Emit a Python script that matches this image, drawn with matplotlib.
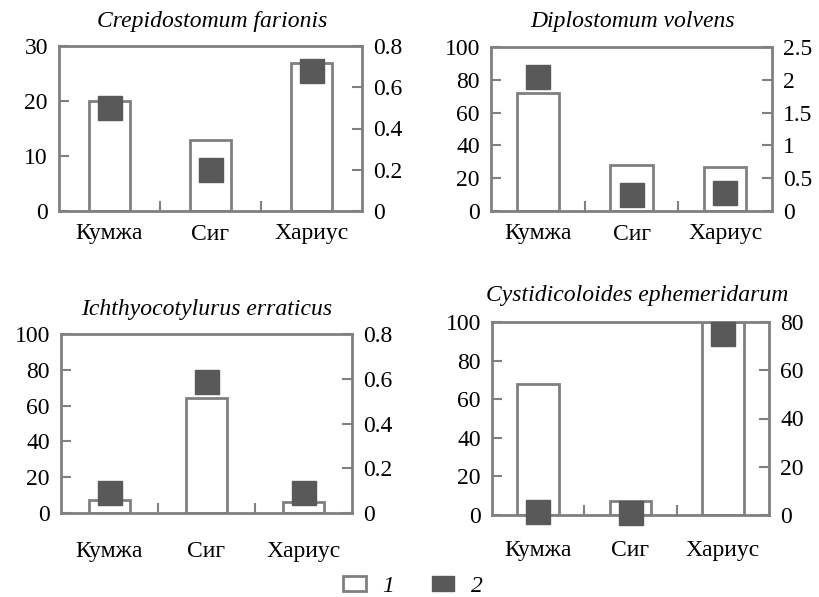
import matplotlib.pyplot as plt
from matplotlib.patches import Patch

plt.rcParams['font.family'] = ['Liberation Serif', 'DejaVu Serif']

fish = ['Кумжа', 'Сиг', 'Хариус']

# (1) bars, left axis
crep_bar = [20, 13, 27]
dipl_bar = [72, 28, 27]
icht_bar = [7, 64, 6]
cyst_bar = [68, 7, 100]

# (2) squares, right axis
crep_sq = [0.5, 0.2, 0.68]
dipl_sq = [2.04, 0.25, 0.27]
icht_sq = [0.09, 0.585, 0.09]
cyst_sq = [1.3, 0.7, 75]

titles = ['Crepidostomum farionis', 'Diplostomum volvens',
          'Ichthyocotylurus erraticus', 'Cystidicoloides ephemeridarum']

left_ticks = [[0, 10, 20, 30], [0, 20, 40, 60, 80, 100],
              [0, 20, 40, 60, 80, 100], [0, 20, 40, 60, 80, 100]]
right_ticks = [[0, 0.2, 0.4, 0.6, 0.8], [0, 0.5, 1, 1.5, 2, 2.5],
               [0, 0.2, 0.4, 0.6, 0.8], [0, 20, 40, 60, 80]]
right_labels = [['0', '0.2', '0.4', '0.6', '0.8'],
                ['0', '0.5', '1', '1.5', '2', '2.5'],
                ['0', '0.2', '0.4', '0.6', '0.8'],
                ['0', '20', '40', '60', '80']]

bars = [crep_bar, dipl_bar, icht_bar, cyst_bar]
squares = [crep_sq, dipl_sq, icht_sq, cyst_sq]

W, H = 819, 597
# axes boxes in pixels: left, top, right, bottom
boxes = [(59, 46, 362, 211), (491, 47, 772, 211),
         (61, 334, 352, 513), (492, 322, 769, 515)]
title_pos = [(212, 21), (633, 22), (207, 310), (637, 296)]
xpads = [9, 9, 20, 18]
bar_w = [0.41, 0.45, 0.42, 0.45]

edge = '#808080'
fill = '#595959'

fig = plt.figure(figsize=(W / 100, H / 100), dpi=100)

for i in range(4):
    l, t, r, b = boxes[i]
    ax = fig.add_axes([l / W, 1 - b / H, (r - l) / W, (b - t) / H])
    x = list(range(3))
    ax.bar(x, bars[i], width=bar_w[i], facecolor='white', edgecolor=edge,
           linewidth=2, zorder=2)
    ax.set_xlim(-0.5, 2.5)
    ax.set_ylim(left_ticks[i][0], left_ticks[i][-1])
    ax.set_yticks(left_ticks[i])
    ax.set_xticks([0.5, 1.5])
    ax.set_xticklabels([])
    ax.set_xticks(x, minor=True)
    ax.set_xticklabels(fish, minor=True, fontsize=17)
    ax.tick_params(axis='x', which='minor', length=0, pad=xpads[i])
    ax.tick_params(axis='x', which='major', direction='in', length=7,
                   width=1.5, color=edge)
    ax.tick_params(axis='y', direction='in', length=7, width=1.5, color=edge,
                   labelsize=17, pad=8)
    for s in ax.spines.values():
        s.set_color(edge)
        s.set_linewidth(2)

    ax2 = ax.twinx()
    ax2.set_ylim(right_ticks[i][0], right_ticks[i][-1])
    ax2.set_yticks(right_ticks[i])
    ax2.set_yticklabels(right_labels[i])
    ax2.tick_params(axis='y', direction='in', length=7, width=1.5, color=edge,
                    labelsize=17, pad=8)
    for s in ax2.spines.values():
        s.set_visible(False)
    ax2.plot(x, squares[i], linestyle='none', marker='s', markersize=17,
             markerfacecolor=fill, markeredgecolor=fill, clip_on=False,
             zorder=3)

    fig.text(title_pos[i][0] / W, 1 - title_pos[i][1] / H, titles[i],
             ha='center', va='center', fontsize=17, style='italic')

handles = [Patch(facecolor='white', edgecolor=edge, linewidth=2),
           Patch(facecolor=fill, edgecolor=fill)]
fig.legend(handles, ['1', '2'], loc='center', bbox_to_anchor=(413 / W, 1 - 586 / H),
           ncol=2, frameon=False, prop={'style': 'italic', 'size': 17},
           handlelength=0.95, handleheight=0.6, handletextpad=0.7,
           columnspacing=1.6, borderpad=0)

plt.savefig('out.png', dpi=100)
